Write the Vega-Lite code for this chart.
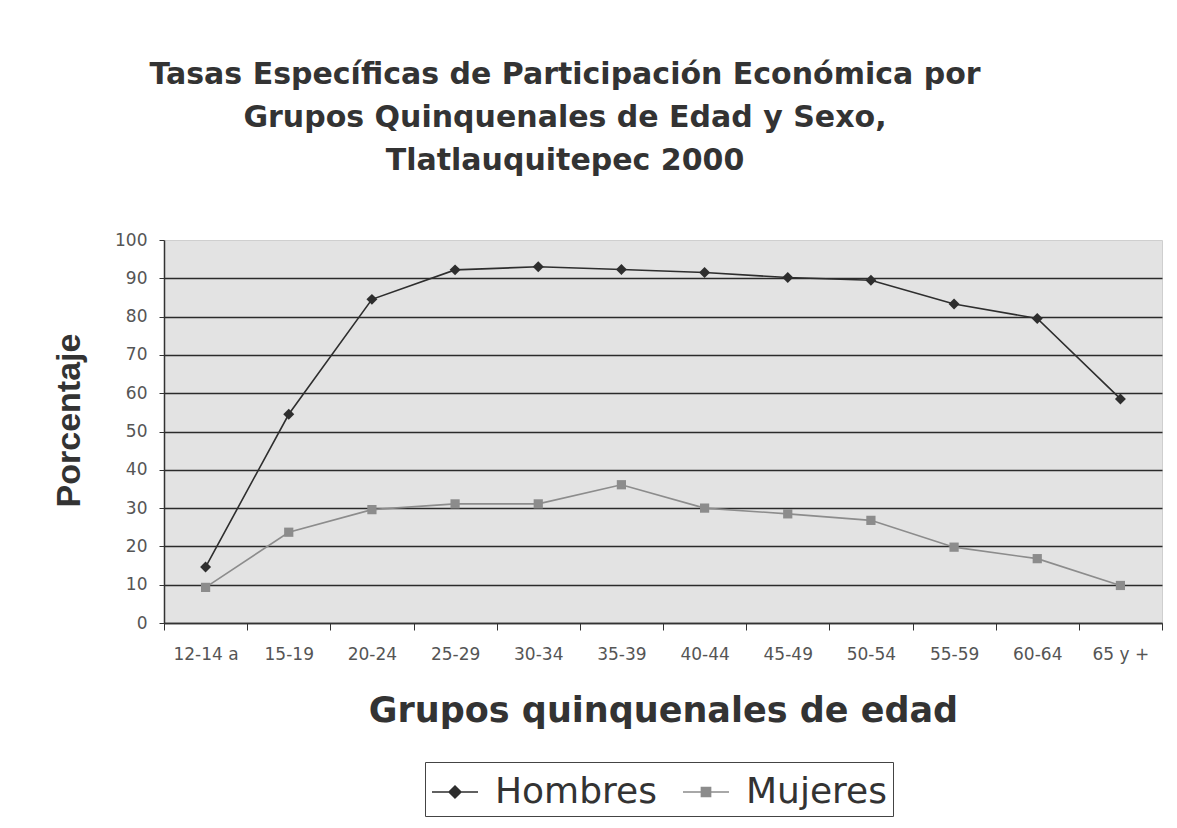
{
  "$schema": "https://vega.github.io/schema/vega-lite/v6.json",
  "width": 998,
  "height": 383,
  "autosize": {"type": "none"},
  "padding": {"left": 164, "top": 240, "right": 15, "bottom": 205},
  "background": "white",
  "title": {
    "text": ["Tasas Específicas de Participación Económica por", "Grupos Quinquenales de Edad y Sexo,", "Tlatlauquitepec 2000"],
    "font": "DejaVu Sans",
    "fontWeight": "bold",
    "fontSize": 30,
    "lineHeight": 43,
    "color": "#333333",
    "anchor": "middle",
    "frame": "group",
    "dx": -98,
    "offset": 55
  },
  "config": {
    "view": {"fill": "#e3e3e3", "stroke": "#cfcfcf"}
  },
  "data": {
    "values": [
      {"grupo": "12-14 a", "sexo": "Hombres", "valor": 14.6},
      {"grupo": "15-19", "sexo": "Hombres", "valor": 54.5},
      {"grupo": "20-24", "sexo": "Hombres", "valor": 84.5},
      {"grupo": "25-29", "sexo": "Hombres", "valor": 92.2},
      {"grupo": "30-34", "sexo": "Hombres", "valor": 93.0},
      {"grupo": "35-39", "sexo": "Hombres", "valor": 92.3},
      {"grupo": "40-44", "sexo": "Hombres", "valor": 91.5},
      {"grupo": "45-49", "sexo": "Hombres", "valor": 90.2},
      {"grupo": "50-54", "sexo": "Hombres", "valor": 89.5},
      {"grupo": "55-59", "sexo": "Hombres", "valor": 83.3},
      {"grupo": "60-64", "sexo": "Hombres", "valor": 79.5},
      {"grupo": "65 y +", "sexo": "Hombres", "valor": 58.5},
      {"grupo": "12-14 a", "sexo": "Mujeres", "valor": 9.3},
      {"grupo": "15-19", "sexo": "Mujeres", "valor": 23.7},
      {"grupo": "20-24", "sexo": "Mujeres", "valor": 29.6},
      {"grupo": "25-29", "sexo": "Mujeres", "valor": 31.1},
      {"grupo": "30-34", "sexo": "Mujeres", "valor": 31.1},
      {"grupo": "35-39", "sexo": "Mujeres", "valor": 36.1},
      {"grupo": "40-44", "sexo": "Mujeres", "valor": 30.0},
      {"grupo": "45-49", "sexo": "Mujeres", "valor": 28.5},
      {"grupo": "50-54", "sexo": "Mujeres", "valor": 26.8},
      {"grupo": "55-59", "sexo": "Mujeres", "valor": 19.8},
      {"grupo": "60-64", "sexo": "Mujeres", "valor": 16.8},
      {"grupo": "65 y +", "sexo": "Mujeres", "valor": 9.8}
    ]
  },
  "encoding": {
    "x": {
      "field": "grupo",
      "type": "ordinal",
      "sort": null,
      "bandPosition": 0.5,
      "scale": {"type": "band", "paddingInner": 0, "paddingOuter": 0},
      "axis": {
        "title": "Grupos quinquenales de edad",
        "labelAngle": 0,
        "tickBand": "extent",
        "tickSize": 7,
        "tickColor": "#333333",
        "domainColor": "#333333",
        "domainWidth": 1.5,
        "grid": false,
        "labelFont": "DejaVu Sans",
        "labelFontSize": 17,
        "labelColor": "#555555",
        "labelPadding": 16,
        "titleFont": "DejaVu Sans",
        "titleFontSize": 35,
        "titleFontWeight": "bold",
        "titleColor": "#333333",
        "titlePadding": 31
      }
    },
    "y": {
      "field": "valor",
      "type": "quantitative",
      "scale": {"domain": [0, 100], "nice": false},
      "axis": {
        "title": "Porcentaje",
        "values": [0, 10, 20, 30, 40, 50, 60, 70, 80, 90, 100],
        "grid": true,
        "gridColor": {"condition": {"test": "datum.value === 100", "value": "transparent"}, "value": "#2b2b2b"},
        "gridWidth": 1.5,
        "domainColor": "#333333",
        "domainWidth": 1.5,
        "tickColor": "#333333",
        "tickSize": 5,
        "labelFont": "DejaVu Sans",
        "labelFontSize": 17,
        "labelColor": "#555555",
        "labelPadding": 12,
        "titleFont": "Liberation Sans",
        "titleFontSize": 34,
        "titleFontWeight": "bold",
        "titleColor": "#333333",
        "titlePadding": 28,
        "titleY": 180
      }
    },
    "color": {
      "field": "sexo",
      "type": "nominal",
      "scale": {"domain": ["Hombres", "Mujeres"], "range": ["#2e2e2e", "#8c8c8c"]},
      "legend": {
        "title": null,
        "orient": "none",
        "legendX": 261,
        "legendY": 522,
        "direction": "horizontal",
        "strokeColor": "#444444",
        "padding": 6,
        "labelFont": "DejaVu Sans",
        "labelFontSize": 36,
        "labelColor": "#333333",
        "labelLimit": 400,
        "symbolType": "M-1,0L1,0M0,-0.26L0.26,0L0,0.26L-0.26,0Z",
        "symbolSize": 2116,
        "symbolStrokeWidth": 1.5,
        "symbolOpacity": 1,
        "labelOffset": 16,
        "columnPadding": 23,
        "encode": {
          "symbols": {
            "update": {
              "shape": {"signal": "datum.value === 'Hombres' ? 'M-1,0L1,0M0,-0.26L0.26,0L0,0.26L-0.26,0Z' : 'M-1,0L1,0M-0.2,-0.2L0.2,-0.2L0.2,0.2L-0.2,0.2Z'"},
              "stroke": {"signal": "datum.value === 'Hombres' ? '#333333' : '#8a8a8a'"},
              "fill": {"signal": "datum.value === 'Hombres' ? '#333333' : '#8f8f8f'"}
            }
          }
        }
      }
    }
  },
  "layer": [
    {
      "mark": {"type": "line", "strokeWidth": 1.6}
    },
    {
      "transform": [{"filter": "datum.sexo === 'Hombres'"}],
      "mark": {"type": "point", "shape": "diamond", "filled": true, "opacity": 1, "size": 120}
    },
    {
      "transform": [{"filter": "datum.sexo === 'Mujeres'"}],
      "mark": {"type": "point", "shape": "square", "filled": true, "opacity": 1, "size": 85}
    }
  ]
}
